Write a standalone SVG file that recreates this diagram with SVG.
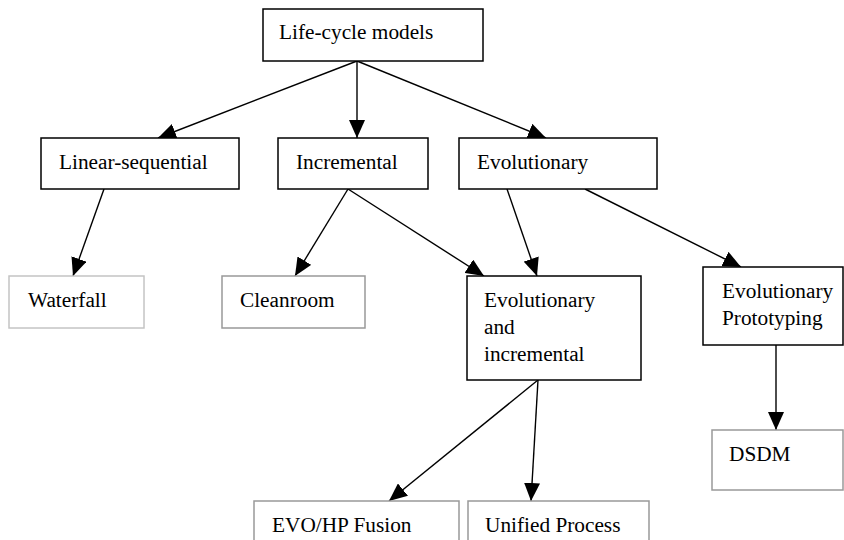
<svg xmlns="http://www.w3.org/2000/svg" width="844" height="540" viewBox="0 0 844 540">
  <style>
    .box { fill: #ffffff; stroke: #000000; stroke-width: 1.5; }
    .grey { fill: #ffffff; stroke: #999999; stroke-width: 1.5; }
    .light { fill: #ffffff; stroke: #c4c4c4; stroke-width: 1.5; }
    .label { font-family: 'Liberation Serif', 'DejaVu Serif', serif; font-size: 21.3px; fill: #000000; }
    .edge { stroke: #000000; stroke-width: 1.4; fill: none; marker-end: url(#arrow); }
  </style>
  <defs>
    <marker id="arrow" viewBox="0 0 18 16" refX="18" refY="8" markerWidth="18" markerHeight="16" markerUnits="userSpaceOnUse" orient="auto">
      <path d="M0,0 L18,8 L0,16 z" fill="#000000"/>
    </marker>
  </defs>
  <rect width="844" height="540" fill="#ffffff"/>

  <g id="connectors">
    <line class="edge" x1="357" y1="61" x2="158" y2="138"/>
    <line class="edge" x1="357" y1="61" x2="357" y2="138"/>
    <line class="edge" x1="357" y1="61" x2="546" y2="138"/>
    <line class="edge" x1="104" y1="189" x2="73" y2="276"/>
    <line class="edge" x1="348" y1="189" x2="295" y2="276"/>
    <line class="edge" x1="348" y1="189" x2="484" y2="276"/>
    <line class="edge" x1="507" y1="189" x2="537" y2="276"/>
    <line class="edge" x1="585" y1="189" x2="741" y2="267"/>
    <line class="edge" x1="776" y1="345" x2="776" y2="430"/>
    <line class="edge" x1="538" y1="380" x2="389" y2="501"/>
    <line class="edge" x1="538" y1="380" x2="531" y2="501"/>
  </g>

  <g font-family="Liberation Serif, serif">
  <g id="life-cycle-models">
    <rect class="box" x="263" y="9" width="220" height="52"/>
    <text class="label" x="279" y="39">Life-cycle models</text>
  </g>
  <g id="linear-sequential">
    <rect class="box" x="41" y="138" width="198" height="51"/>
    <text class="label" x="59" y="169">Linear-sequential</text>
  </g>
  <g id="incremental">
    <rect class="box" x="278" y="138" width="150" height="51"/>
    <text class="label" x="296" y="169">Incremental</text>
  </g>
  <g id="evolutionary">
    <rect class="box" x="459" y="138" width="198" height="51"/>
    <text class="label" x="477" y="169">Evolutionary</text>
  </g>
  <g id="waterfall">
    <rect class="light" x="9" y="276" width="135" height="52"/>
    <text class="label" x="28" y="307">Waterfall</text>
  </g>
  <g id="cleanroom">
    <rect class="grey" x="222" y="276" width="143" height="52"/>
    <text class="label" x="240" y="307">Cleanroom</text>
  </g>
  <g id="evolutionary-and-incremental">
    <rect class="box" x="467" y="276" width="174" height="104"/>
    <text class="label" x="484" y="307">Evolutionary</text>
    <text class="label" x="484" y="334">and</text>
    <text class="label" x="484" y="361">incremental</text>
  </g>
  <g id="evolutionary-prototyping">
    <rect class="box" x="703" y="267" width="140" height="78"/>
    <text class="label" x="722" y="298">Evolutionary</text>
    <text class="label" x="722" y="325">Prototyping</text>
  </g>
  <g id="dsdm">
    <rect class="grey" x="712" y="430" width="131" height="60"/>
    <text class="label" x="729" y="461">DSDM</text>
  </g>
  <g id="evo-hp-fusion">
    <rect class="grey" x="254" y="501" width="205" height="50"/>
    <text class="label" x="272" y="532">EVO/HP Fusion</text>
  </g>
  <g id="unified-process">
    <rect class="grey" x="468" y="501" width="181" height="50"/>
    <text class="label" x="485" y="532">Unified Process</text>
  </g>
  </g>
</svg>
